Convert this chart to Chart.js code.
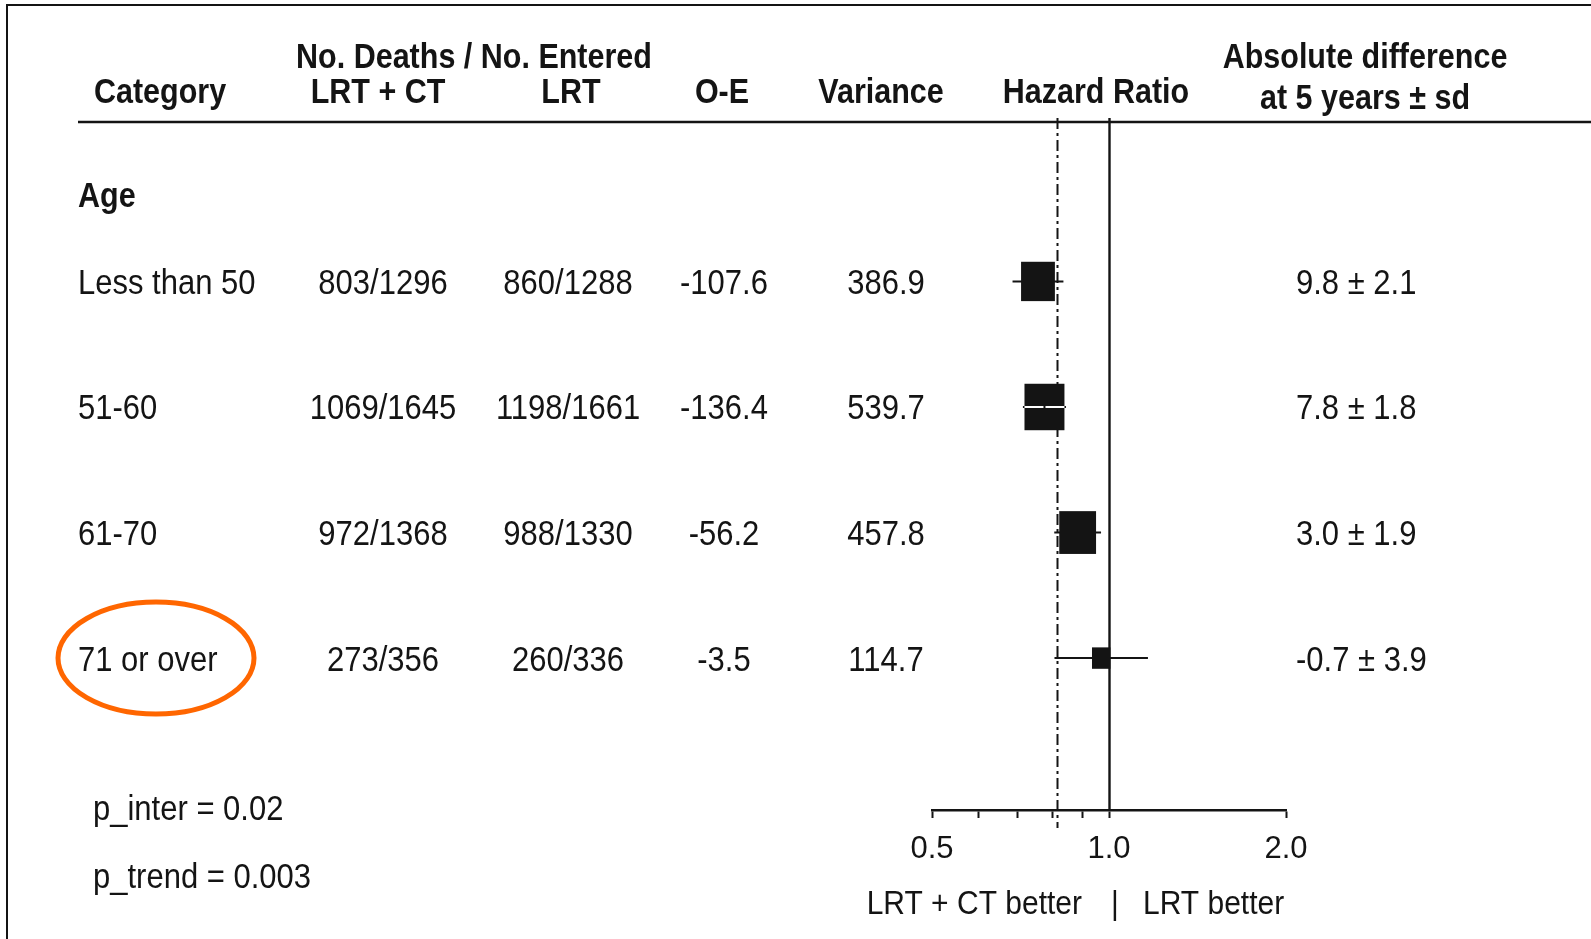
<!DOCTYPE html>
<html>
<head>
<meta charset="utf-8">
<script src="https://cdn.jsdelivr.net/npm/chart.js@4.4.1/dist/chart.umd.min.js"></script>
<style>
  html, body { margin: 0; padding: 0; background: #fff; }
  canvas { display: block; }
</style>
</head>
<body>
<canvas id="forest" width="1591" height="939"></canvas>
<script>
// Subgroup rows (age)
const categories  = ['Less than 50', '51-60', '61-70', '71 or over'];
const deathsLrtCt = ['803/1296', '1069/1645', '972/1368', '273/356'];
const deathsLrt   = ['860/1288', '1198/1661', '988/1330', '260/336'];
const oMinusE     = [-107.6, -136.4, -56.2, -3.5];
const variances   = [386.9, 539.7, 457.8, 114.7];
const absDiff     = ['9.8 \u00b1 2.1', '7.8 \u00b1 1.8', '3.0 \u00b1 1.9', '-0.7 \u00b1 3.9'];

// Hazard ratio axis
const axisTicks  = [0.5, 0.6, 0.7, 0.8, 0.9, 1.0, 2.0];
const axisLabels = [0.5, 1.0, 2.0];

const groupTitle = 'Age';
const pInter = 'p_inter = 0.02';
const pTrend = 'p_trend = 0.003';

const INK = '#141414';
const FONT = '"Liberation Sans", Arial, sans-serif';
const STRETCH = 1.12;

// Peto estimates: log HR = (O-E)/V, 95% CI = +/- 1.96/sqrt(V)
const hr = oMinusE.map((oe, i) => Math.exp(oe / variances[i]));
const ciLo = oMinusE.map((oe, i) => Math.exp(oe / variances[i] - 1.96 / Math.sqrt(variances[i])));
const ciHi = oMinusE.map((oe, i) => Math.exp(oe / variances[i] + 1.96 / Math.sqrt(variances[i])));
const overallHr = Math.exp(oMinusE.reduce((a, b) => a + b, 0) / variances.reduce((a, b) => a + b, 0));

function txt(ctx, s, x, cy, align, bold, size) {
  ctx.save();
  ctx.font = (bold ? 'bold ' : '') + size + 'px ' + FONT;
  ctx.fillStyle = INK;
  ctx.textAlign = align;
  ctx.textBaseline = 'alphabetic';
  ctx.translate(x, cy + 0.358 * size * STRETCH);
  ctx.scale(1, STRETCH);
  ctx.fillText(s, 0, 0);
  ctx.restore();
}

const forestPlugin = {
  id: 'forest',
  beforeDraw(chart) {
    const ctx = chart.ctx;
    ctx.save();
    ctx.fillStyle = '#fff';
    ctx.fillRect(0, 0, chart.width, chart.height);
    ctx.restore();
  },
  beforeDatasetsDraw(chart) {
    const { ctx, scales: { x } } = chart;
    ctx.save();
    // frame, left and top
    ctx.strokeStyle = INK;
    ctx.lineWidth = 2;
    ctx.beginPath();
    ctx.moveTo(7, 939); ctx.lineTo(7, 5); ctx.lineTo(1591, 5);
    ctx.stroke();

    // header rule
    ctx.lineWidth = 2.6;
    ctx.beginPath();
    ctx.moveTo(78, 122); ctx.lineTo(1591, 122);
    ctx.stroke();

    // overall HR, dash-dot
    const ox = Math.round(x.getPixelForValue(overallHr)) + 0.5;
    ctx.lineWidth = 2;
    ctx.setLineDash([11, 4, 3, 4]);
    ctx.beginPath();
    ctx.moveTo(ox, 118); ctx.lineTo(ox, 828);
    ctx.stroke();
    ctx.setLineDash([]);

    // no effect line at HR = 1
    const nx = Math.round(x.getPixelForValue(1)) + 0.5;
    ctx.lineWidth = 2.4;
    ctx.beginPath();
    ctx.moveTo(nx, 118); ctx.lineTo(nx, chart.chartArea.bottom);
    ctx.stroke();
    ctx.restore();
  },
  afterDatasetsDraw(chart) {
    const { ctx, scales: { x, y } } = chart;
    ctx.save();
    categories.forEach((c, i) => {
      const cy = y.getPixelForValue(i + 1);
      const cx = x.getPixelForValue(hr[i]);
      const lo = x.getPixelForValue(ciLo[i]);
      const hi = x.getPixelForValue(ciHi[i]);
      const s = Math.sqrt(variances[i]);
      const w = 1.72 * s, h = 2.0 * s;
      ctx.fillStyle = INK;
      ctx.fillRect(cx - w / 2, cy - h / 2, w, h);
      // CI hidden by the box: show it in white
      if (hi - lo < w + 8) {
        ctx.strokeStyle = '#fff';
        ctx.lineWidth = 2;
        ctx.beginPath();
        ctx.moveTo(cx - w / 2, cy); ctx.lineTo(cx + w / 2, cy);
        ctx.stroke();
        ctx.fillStyle = INK;
        ctx.fillRect(cx - 1, cy - 1, 2, 2);
      }
    });
    ctx.restore();
  },
  afterDraw(chart) {
    const { ctx, scales: { y } } = chart;

    // column headers
    txt(ctx, 'No. Deaths / No. Entered', 474, 56, 'center', true, 30.5);
    txt(ctx, 'Absolute difference', 1365, 56, 'center', true, 30.5);
    txt(ctx, 'Category', 160, 91, 'center', true, 30.5);
    txt(ctx, 'LRT + CT', 378, 91, 'center', true, 30.5);
    txt(ctx, 'LRT', 571, 91, 'center', true, 30.5);
    txt(ctx, 'O-E', 722, 91, 'center', true, 30.5);
    txt(ctx, 'Variance', 881, 91, 'center', true, 30.5);
    txt(ctx, 'Hazard Ratio', 1096, 91, 'center', true, 30.5);
    txt(ctx, 'at 5 years \u00b1 sd', 1365, 97, 'center', true, 30.5);

    txt(ctx, groupTitle, 78, y.getPixelForValue(0.31), 'left', true, 30.5);

    categories.forEach((c, i) => {
      const cy = y.getPixelForValue(i + 1);
      txt(ctx, c, 78, cy, 'left', false, 31);
      txt(ctx, deathsLrtCt[i], 383, cy, 'center', false, 31);
      txt(ctx, deathsLrt[i], 568, cy, 'center', false, 31);
      txt(ctx, oMinusE[i].toFixed(1), 724, cy, 'center', false, 31);
      txt(ctx, variances[i].toFixed(1), 886, cy, 'center', false, 31);
      txt(ctx, absDiff[i], 1296, cy, 'left', false, 31);
    });

    txt(ctx, pInter, 93, 808, 'left', false, 31);
    txt(ctx, pTrend, 93, 876, 'left', false, 31);

    // direction labels under the axis
    txt(ctx, 'LRT + CT better', 1082, 902, 'right', false, 30);
    txt(ctx, '|', 1115, 902, 'center', false, 30);
    txt(ctx, 'LRT better', 1143, 902, 'left', false, 30);

    // highlight ring round the oldest group
    const ry = y.getPixelForValue(4);
    ctx.save();
    ctx.strokeStyle = '#ff6600';
    ctx.lineWidth = 5;
    ctx.beginPath();
    ctx.ellipse(156, ry, 98, 56, 0, 0, Math.PI * 2);
    ctx.stroke();
    ctx.restore();
  }
};

// 95% CI whiskers, one short line per subgroup
const ciSets = categories.map((c, i) => ({
  type: 'line',
  label: c,
  data: [{ x: ciLo[i], y: i + 1 }, { x: ciHi[i], y: i + 1 }],
  borderColor: INK,
  borderWidth: 2,
  pointRadius: 0,
  fill: false
}));

new Chart(document.getElementById('forest'), {
  type: 'scatter',
  data: {
    datasets: [
      ...ciSets,
      {
        label: 'Hazard ratio',
        data: hr.map((v, i) => ({ x: v, y: i + 1 })),
        pointRadius: 0
      }
    ]
  },
  options: {
    responsive: false,
    animation: false,
    devicePixelRatio: 1,
    layout: { padding: { left: 932, right: 305, top: 122, bottom: 69 } },
    plugins: { legend: { display: false }, tooltip: { enabled: false } },
    scales: {
      x: {
        type: 'logarithmic',
        min: 0.5,
        max: 2.0,
        afterBuildTicks: s => { s.ticks = axisTicks.map(v => ({ value: v })); },
        afterFit: s => { s.height = 60; },
        ticks: {
          autoSkip: false,
          maxRotation: 0,
          color: INK,
          padding: 13,
          font: { family: FONT, size: 31 },
          callback: v => axisLabels.includes(v) ? v.toFixed(1) : ''
        },
        grid: { drawOnChartArea: false, drawTicks: true, tickLength: 8, tickWidth: 2, tickColor: INK },
        border: { display: true, color: INK, width: 2.5 }
      },
      y: {
        type: 'linear',
        display: false,
        reverse: true,
        min: -0.27,
        max: 5.21
      }
    }
  },
  plugins: [forestPlugin]
});
</script>
</body>
</html>
